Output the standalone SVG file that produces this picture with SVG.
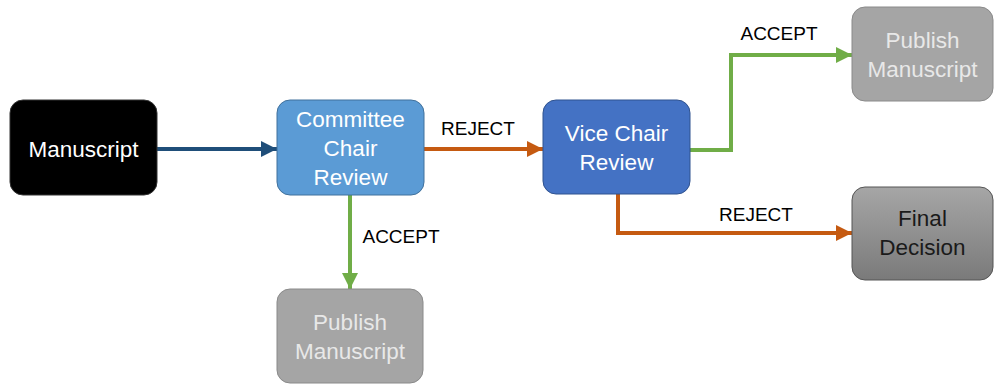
<svg xmlns="http://www.w3.org/2000/svg" width="995" height="386" viewBox="0 0 995 386">
<defs>
<style>
text{font-family:"Liberation Sans",Arial,sans-serif;font-size:22.5px;text-anchor:middle}
.lbl{fill:#000;font-size:19px}
.w{fill:#fff}
.pub{fill:#e8e8e8}
.dk{fill:#1a1a1a}
.c{fill:none;stroke-width:4}
</style>
<linearGradient id="gFinal" x1="0" y1="0" x2="0" y2="1">
<stop offset="0" stop-color="#a6a6a6"/>
<stop offset="1" stop-color="#7a7a7a"/>
</linearGradient>
<marker id="aBlue" viewBox="0 0 10 10" refX="10" refY="5" markerWidth="4" markerHeight="4" orient="auto" markerUnits="strokeWidth"><path d="M0,0L10,5L0,10z" fill="#1f4e79"/></marker>
<marker id="aOrange" viewBox="0 0 10 10" refX="10" refY="5" markerWidth="4" markerHeight="4" orient="auto" markerUnits="strokeWidth"><path d="M0,0L10,5L0,10z" fill="#c55a11"/></marker>
<marker id="aGreen" viewBox="0 0 10 10" refX="10" refY="5" markerWidth="4" markerHeight="4" orient="auto" markerUnits="strokeWidth"><path d="M0,0L10,5L0,10z" fill="#70ad47"/></marker>
</defs>
<rect width="995" height="386" fill="#fff"/>
<g id="connectors">
<path class="c" d="M157,149H277" stroke="#1f4e79" marker-end="url(#aBlue)"/>
<path class="c" d="M424,149H543" stroke="#c55a11" marker-end="url(#aOrange)"/>
<path class="c" d="M350,195V289" stroke="#70ad47" marker-end="url(#aGreen)"/>
<path class="c" d="M690,150H731V55H852" stroke="#70ad47" marker-end="url(#aGreen)"/>
<path class="c" d="M618,194V233H852" stroke="#c55a11" marker-end="url(#aOrange)"/>
<text class="lbl" x="478" y="135">REJECT</text>
<text class="lbl" x="779" y="40">ACCEPT</text>
<text class="lbl" x="756" y="221">REJECT</text>
<text class="lbl" x="401" y="243">ACCEPT</text>
</g>
<g id="manuscript">
<rect x="10" y="100" width="147" height="95" rx="13" fill="#000" stroke="#333" stroke-width="1"/>
<text class="w" x="83.5" y="157">Manuscript</text>
</g>
<g id="committee">
<rect x="277" y="100" width="147" height="95" rx="13" fill="#5b9bd5" stroke="#41719c" stroke-width="1"/>
<text class="w" x="350.5" y="127">Committee</text>
<text class="w" x="350.5" y="156">Chair</text>
<text class="w" x="350.5" y="185">Review</text>
</g>
<g id="vicechair">
<rect x="543" y="100" width="147" height="94" rx="13" fill="#4472c4" stroke="#2f528f" stroke-width="1"/>
<text class="w" x="616.5" y="141">Vice Chair</text>
<text class="w" x="616.5" y="170">Review</text>
</g>
<g id="publishTop">
<rect x="852" y="7" width="141" height="94" rx="13" fill="#a5a5a5" stroke="#8a8a8a" stroke-width="1"/>
<text class="pub" x="922.5" y="48">Publish</text>
<text class="pub" x="922.5" y="77">Manuscript</text>
</g>
<g id="finalDecision">
<rect x="852" y="187" width="141" height="93" rx="13" fill="url(#gFinal)" stroke="#555" stroke-width="1"/>
<text class="dk" x="922.5" y="226">Final</text>
<text class="dk" x="922.5" y="255">Decision</text>
</g>
<g id="publishBottom">
<rect x="277" y="289" width="146" height="94" rx="13" fill="#a5a5a5" stroke="#8a8a8a" stroke-width="1"/>
<text class="pub" x="350" y="330">Publish</text>
<text class="pub" x="350" y="359">Manuscript</text>
</g>
</svg>
